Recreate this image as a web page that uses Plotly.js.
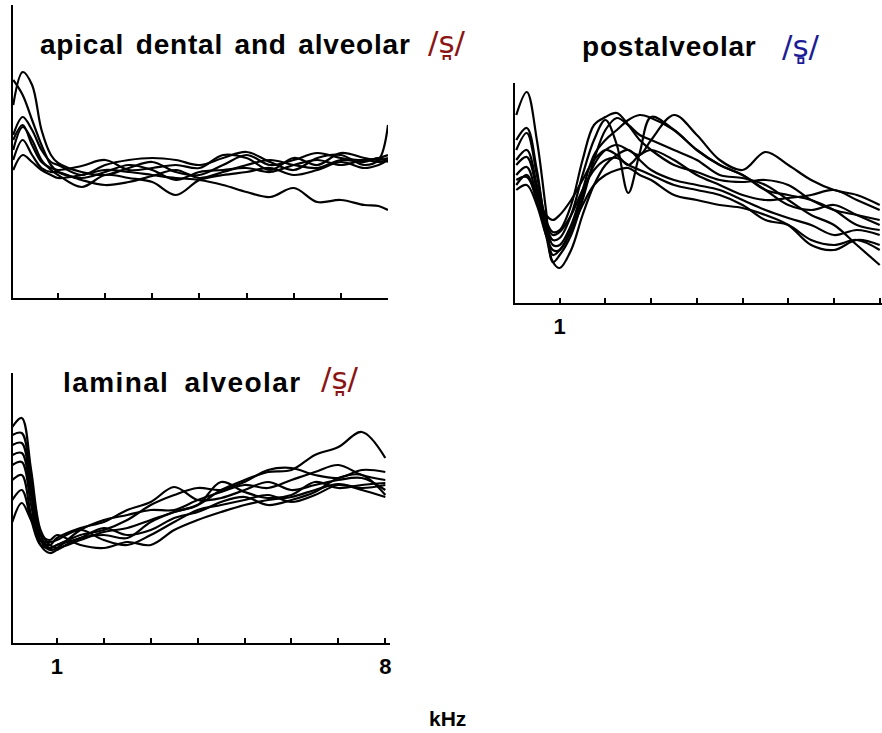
<!DOCTYPE html>
<html><head><meta charset="utf-8">
<script src="https://cdn.plot.ly/plotly-3.0.1.min.js"></script>
<style>html,body{margin:0;padding:0;background:#fff;overflow:hidden}</style>
</head><body><div id="chart" style="width:882px;height:733px"></div>
<script>
// ---------- data (frequency in kHz, level in relative units) ----------
const freqApical = [0.05,0.25,0.45,0.65,0.85,1.0,1.5,2,2.5,3,3.5,4,4.5,5,5.5,6,6.5,7,7.5,7.8,8];
const apical1 = [193,226,213,168,143,135,126,123,130,136,126,123,133,143,133,138,145,140,138,140,143];
const apical2 = [218,203,178,153,133,126,120,126,133,128,118,126,128,130,126,133,138,133,138,136,138];
const apical3 = [163,181,168,148,136,133,123,133,138,140,138,133,140,146,136,128,140,143,133,138,173];
const apical4 = [148,171,158,138,128,123,111,123,120,116,103,118,123,126,130,123,128,136,130,133,138];
const apical5 = [128,143,136,128,123,120,123,128,126,123,120,118,113,106,101,110,96,98,93,92,88];
const apical6 = [158,173,153,136,130,128,132,138,128,130,133,130,143,140,128,140,133,145,140,138,140];
const apical7 = [138,158,143,130,126,126,118,113,116,122,128,120,126,133,138,133,130,138,136,140,136];

const freqPost = [0.05,0.28,0.5,0.7,0.85,1.0,1.25,1.5,1.75,2.0,2.25,2.5,2.75,3.0,3.5,4.0,4.5,5.0,5.5,6.0,6.5,7.0,7.5,8.0];
const post1 = [188,211,163,93,41,48,68,103,143,173,185,178,168,163,153,143,128,125,118,103,88,78,58,38];
const post2 = [163,175,133,78,63,65,88,128,163,183,158,110,150,186,173,153,138,128,113,108,103,93,78,73];
const post3 = [153,170,128,83,71,73,98,143,178,186,190,178,163,153,138,131,123,121,123,118,103,93,88,83];
const post4 = [143,153,118,78,58,58,78,113,148,163,173,183,188,185,173,153,138,128,113,98,93,98,88,78];
const post5 = [138,146,113,73,48,53,73,108,138,153,158,153,148,163,188,168,143,133,151,138,123,113,108,98];
const post6 = [128,136,108,88,83,88,103,123,143,153,148,138,148,153,143,128,118,108,103,105,108,113,103,93];
const post7 = [123,126,103,68,41,35,53,88,118,138,148,153,143,133,123,118,113,103,93,85,78,68,73,68];
const post8 = [118,128,103,78,68,71,88,113,133,143,145,138,133,128,118,113,108,98,83,78,63,58,63,53];
const post9 = [113,118,98,68,53,53,73,98,118,128,133,135,128,123,108,103,98,95,88,78,58,53,63,58];

const freqLam = [0.05,0.25,0.45,0.65,0.85,1.0,1.5,2.0,2.5,3.0,3.5,4.0,4.5,5.0,5.5,6.0,6.5,7.0,7.5,8.0];
const lam1 = [216,225,173,113,98,95,103,111,115,123,131,138,153,163,171,173,188,196,211,185];
const lam2 = [208,210,163,108,95,98,108,113,123,138,148,155,153,161,173,175,168,165,173,171];
const lam3 = [198,200,153,103,93,95,113,123,128,133,133,143,151,158,155,163,171,178,168,163];
const lam4 = [188,190,148,103,98,105,115,121,133,141,156,143,145,153,161,153,158,163,165,153];
const lam5 = [178,181,138,98,90,93,105,108,105,121,131,138,161,151,145,148,161,155,158,160];
const lam6 = [163,168,128,103,101,103,113,103,98,108,121,133,138,143,148,141,148,158,153,146];
const lam7 = [121,140,123,108,103,108,98,95,101,98,113,123,131,138,143,146,153,159,155,158];
const lam8 = [143,153,123,98,95,98,105,115,108,113,125,131,141,146,138,143,151,165,168,148];

const tickVals = [1,2,3,4,5,6,7,8];
const tickText = ['1','','','','','','','8'];
const titles = ['apical dental and alveolar','postalveolar','laminal alveolar'];
const symbols = ['/s\u032A/','/s\u033B/','/s\u032A/'];
const xLabel = 'kHz';

// ---------- layout helpers ----------
const W = 882, H = 733;
const px = v => v / W, py = v => 1 - v / H;

const traces = [];
function addSet(freq, sets, xa, ya) {
  sets.forEach(s => traces.push({
    x: freq, y: s, xaxis: xa, yaxis: ya, type: 'scatter', mode: 'lines',
    line: {color: '#000', width: 2.2, shape: 'spline', smoothing: 1},
    hoverinfo: 'skip', showlegend: false
  }));
}
addSet(freqApical, [apical1,apical2,apical3,apical4,apical5,apical6,apical7], 'x', 'y');
addSet(freqPost, [post1,post2,post3,post4,post5,post6,post7,post8,post9], 'x2', 'y2');
addSet(freqLam, [lam1,lam2,lam3,lam4,lam5,lam6,lam7,lam8], 'x3', 'y3');

const tickFont = {family: 'Liberation Sans, Arial, sans-serif', size: 22, color: '#000', weight: 'bold'};
function xAxis(dom, range, anchor, labels) {
  return {domain: dom, range: range, anchor: anchor, showline: true, linecolor: '#000', linewidth: 2,
    showgrid: false, zeroline: false, ticks: 'inside', ticklen: 5, tickwidth: 2, tickcolor: '#000',
    tickmode: 'array', tickvals: tickVals, ticktext: tickText, showticklabels: labels,
    tickfont: tickFont, ticklabelstandoff: 3, fixedrange: true};
}
function yAxis(dom, range, anchor) {
  return {domain: dom, range: range, anchor: anchor, showline: true, linecolor: '#000', linewidth: 2,
    showgrid: false, zeroline: false, ticks: '', showticklabels: false, fixedrange: true};
}

const titleFont = {family: 'Liberation Sans, Arial, sans-serif', size: 28, color: '#000'};
const symFont = (c) => ({family: 'DejaVu Sans, sans-serif', size: 31, color: c});
const wide = (t, ls, ws) => "<span style='letter-spacing:" + ls + "px;word-spacing:" + ws + "px'><b>" + t + "</b></span>";
const ann = [
  {text: wide(titles[0], 0.8, 3), x: px(39), y: py(44), xanchor: 'left', yanchor: 'middle', font: titleFont},
  {text: symbols[0], x: px(427), y: py(42), xanchor: 'left', yanchor: 'middle', font: symFont('#8b1414')},
  {text: wide(titles[1], 0.8, 3), x: px(581), y: py(47), xanchor: 'left', yanchor: 'middle', font: titleFont},
  {text: symbols[1], x: px(781), y: py(46), xanchor: 'left', yanchor: 'middle', font: symFont('#1c1c96')},
  {text: wide(titles[2], 1.4, 6), x: px(62), y: py(382), xanchor: 'left', yanchor: 'middle', font: titleFont},
  {text: symbols[2], x: px(320), y: py(378), xanchor: 'left', yanchor: 'middle', font: symFont('#8b1414')},
  {text: '<b>' + xLabel + '</b>', x: px(447), y: py(718), xanchor: 'center', yanchor: 'middle',
   font: {family: 'Liberation Sans, Arial, sans-serif', size: 21, color: '#000'}}
].map(a => Object.assign({xref: 'paper', yref: 'paper', showarrow: false, borderpad: 0}, a));

const layout = {
  width: W, height: H, margin: {l: 0, r: 0, t: 0, b: 0},
  paper_bgcolor: '#fff', plot_bgcolor: 'rgba(0,0,0,0)', showlegend: false,
  xaxis: xAxis([px(13), px(388)], [0.045, 8.0], 'y', false),
  yaxis: yAxis([py(298), py(5)], [0, 293], 'x'),
  xaxis2: xAxis([px(515), 1], [0.022, 8.05], 'y2', true),
  yaxis2: yAxis([py(303), py(83)], [0, 220], 'x2'),
  xaxis3: xAxis([px(13), px(390)], [0.064, 8.1], 'y3', true),
  yaxis3: yAxis([py(643), py(373)], [0, 270], 'x3'),
  annotations: ann
};
Plotly.newPlot('chart', traces, layout, {displayModeBar: false, staticPlot: true});
</script></body></html>
